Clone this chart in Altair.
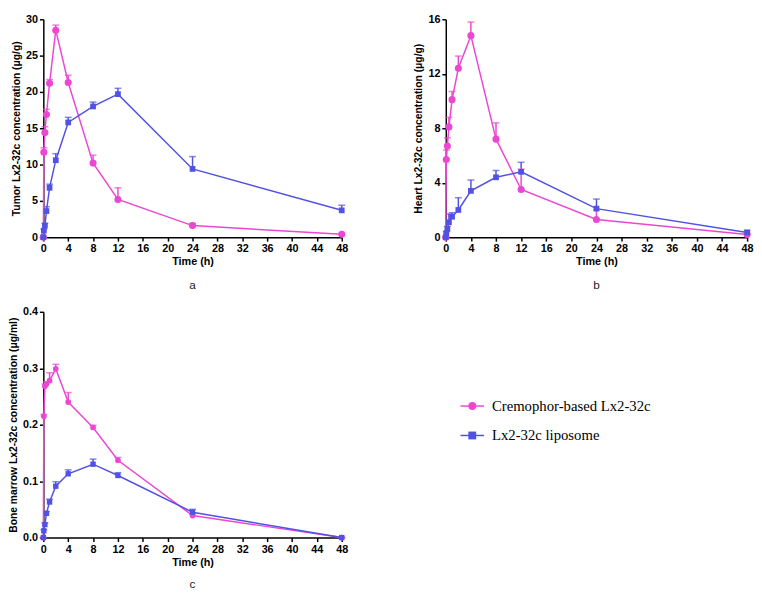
import altair as alt
import pandas as pd

times = [0, 0.083, 0.25, 0.5, 1, 2, 4, 8, 12, 24, 48]
series_names = ["Cremophor-based Lx2-32c", "Lx2-32c liposome"]

# Panel a: tumor (µg/g)
a_crem = [0, 11.7, 14.4, 16.9, 21.2, 28.5, 21.3, 10.2, 5.2, 1.6, 0.4]
a_crem_err = [0, 0.6, 0.8, 0.7, 0.5, 0.7, 1.0, 1.1, 1.6, 0.3, 0.1]
a_lipo = [0, 0.9, 1.6, 3.6, 6.8, 10.6, 15.8, 18.0, 19.7, 9.4, 3.7]
a_lipo_err = [0, 0.2, 0.3, 0.6, 0.5, 0.9, 0.7, 0.6, 0.8, 1.7, 0.7]

# Panel b: heart (µg/g)
b_crem = [0, 5.7, 6.7, 8.1, 10.1, 12.4, 14.8, 7.2, 3.5, 1.3, 0.2]
b_crem_err = [0, 0.7, 0.6, 0.7, 0.6, 0.9, 1.0, 1.2, 1.5, 0.7, 0.1]
b_lipo = [0, 0.3, 0.6, 1.1, 1.5, 2.0, 3.4, 4.4, 4.8, 2.1, 0.35]
b_lipo_err = [0, 0.1, 0.2, 0.6, 0.3, 0.9, 0.8, 0.5, 0.7, 0.7, 0.15]

# Panel c: bone marrow (µg/ml)
c_crem = [0, 0.215, 0.268, 0.272, 0.278, 0.299, 0.240, 0.195, 0.137, 0.039, 0.0]
c_crem_err = [0, 0.003, 0.004, 0.004, 0.014, 0.008, 0.017, 0.004, 0.005, 0.003, 0.0]
c_lipo = [0, 0.012, 0.023, 0.043, 0.063, 0.091, 0.113, 0.130, 0.110, 0.045, 0.0]
c_lipo_err = [0, 0.002, 0.003, 0.003, 0.005, 0.008, 0.007, 0.009, 0.005, 0.005, 0.0]

x_ticks = list(range(0, 49, 4))

PINK = "#EC47D2"
BLUE = "#5151E4"
color_scale = alt.Scale(domain=series_names, range=[PINK, BLUE])


def make_df(crem, crem_err, lipo, lipo_err):
    rows = []
    for t, v, e in zip(times, crem, crem_err):
        rows.append({"time": t, "value": v, "top": v + e, "series": series_names[0]})
    for t, v, e in zip(times, lipo, lipo_err):
        rows.append({"time": t, "value": v, "top": v + e, "series": series_names[1]})
    return pd.DataFrame(rows)


def make_panel(df, ymax, ystep, ytitle, label, fmt, csize, ssize, w, h, label_off):
    yticks = [round(i * ystep, 4) for i in range(int(round(ymax / ystep)) + 1)]
    xscale = alt.Scale(domain=[0, 48], nice=False)
    xaxis = alt.Axis(values=x_ticks, title="Time (h)", labelOverlap=False)
    yscale = alt.Scale(domain=[0, ymax], nice=False)
    yaxis = alt.Axis(values=yticks, title=ytitle, format=fmt, labelOverlap=False)
    x = alt.X("time:Q", scale=xscale, axis=xaxis)
    y = alt.Y("value:Q", scale=yscale, axis=yaxis)
    ytop = alt.Y("top:Q", scale=yscale, axis=yaxis)
    col = alt.Color("series:N", scale=color_scale, legend=None)
    base = alt.Chart(df)
    err = base.mark_rule(strokeWidth=1.5, clip=False).encode(
        x=x, y=y, y2="top:Q", color=col)
    cap = base.mark_tick(orient="horizontal", size=7, thickness=1.5, clip=False).encode(
        x=x, y=ytop, color=col)
    line = base.mark_line(strokeWidth=1.5, clip=False).encode(
        x=x, y=y, color=col, detail="series:N")
    circ = base.transform_filter(alt.datum.series == series_names[0]).mark_point(
        shape="circle", filled=True, opacity=1, size=csize, clip=False).encode(
        x=x, y=y, color=col)
    sq = base.transform_filter(alt.datum.series == series_names[1]).mark_point(
        shape="square", filled=True, opacity=1, size=ssize, clip=False).encode(
        x=x, y=y, color=col)
    return alt.layer(err, cap, line, circ, sq).properties(
        width=w, height=h,
        title=alt.TitleParams(label, orient="bottom", font="Liberation Sans",
                              fontSize=12, fontWeight="normal", color="#222222",
                              offset=label_off, anchor="middle"))


pa = make_panel(make_df(a_crem, a_crem_err, a_lipo, a_lipo_err), 30, 5,
                "Tumor Lx2-32c concentration (μg/g)", "a", "d", 52, 34, 304, 222, 14)
pb = make_panel(make_df(b_crem, b_crem_err, b_lipo, b_lipo_err), 16, 4,
                "Heart Lx2-32c concentration (μg/g)", "b", "d", 52, 34, 307, 222, 14)
pc = make_panel(make_df(c_crem, c_crem_err, c_lipo, c_lipo_err), 0.4, 0.1,
                "Bone marrow Lx2-32c concentration (μg/ml)", "c", ".1f", 34, 30, 304, 230, 12)

leg_df = pd.DataFrame({"series": series_names, "row": [0, 1]})
ly = alt.Y("row:Q", scale=alt.Scale(domain=[0, 1], range=[96, 126]), axis=None)
lcol = alt.Color("series:N", scale=color_scale, legend=None)
lbase = alt.Chart(leg_df)
lline = lbase.mark_rule(strokeWidth=1.5).encode(
    x=alt.value(52), x2=alt.value(76), y=ly, color=lcol)
lpt = lbase.mark_point(filled=True, opacity=1, size=64).encode(
    x=alt.value(64), y=ly, color=lcol,
    shape=alt.Shape("series:N", scale=alt.Scale(domain=series_names, range=["circle", "square"]), legend=None))
ltext = lbase.mark_text(align="left", baseline="middle", font="Liberation Serif",
                        fontSize=15, color="black").encode(
    x=alt.value(84), y=ly, text="series:N")
legend = alt.layer(lline, lpt, ltext).properties(width=260, height=230)

top = alt.hconcat(pa, pb, spacing=66)
bottom = alt.hconcat(pc, legend, spacing=62)
chart = alt.vconcat(top, bottom, spacing=15).properties(
    padding={"left": 0, "top": 0, "right": 0, "bottom": 0}).configure_view(
    stroke=None).configure_axis(
    grid=False, domainColor="black", tickColor="black", domainWidth=1.5, tickWidth=1.5,
    tickSize=4, labelFont="Liberation Sans", labelFontSize=11, labelFontWeight="bold",
    labelColor="black", titleFont="Liberation Sans", titleFontWeight="bold",
    titleColor="black", labelPadding=2, labelOverlap=False).configure_axisY(
    titleFontSize=10.5, titlePadding=4).configure_axisX(
    titleFontSize=11, titlePadding=2, labelFlush=False)

chart.save("out.html", embed_options={"renderer": "svg", "actions": False})
